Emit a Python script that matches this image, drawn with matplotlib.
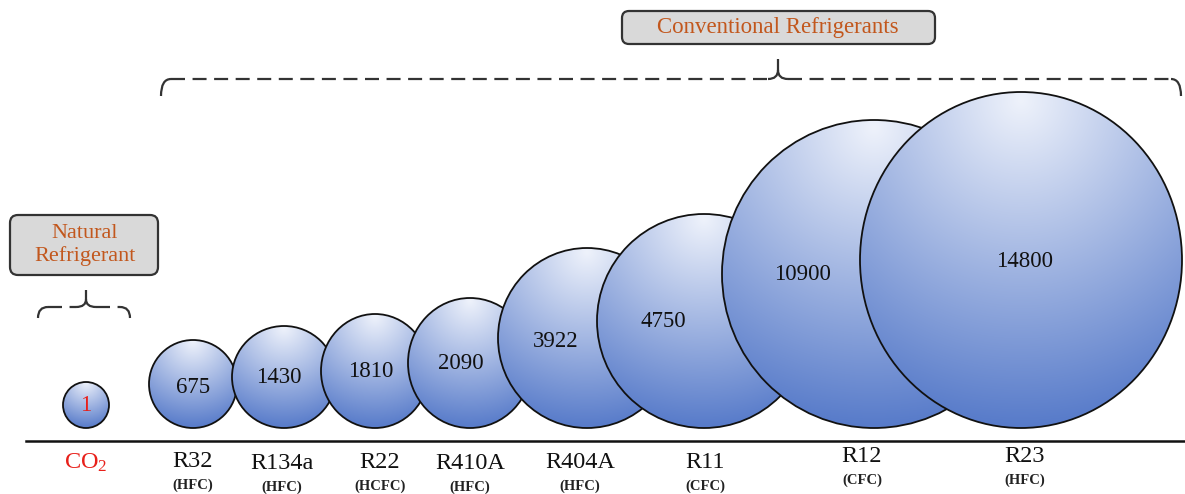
import numpy as np
import matplotlib
matplotlib.use("Agg")
import matplotlib.pyplot as plt
from matplotlib.patches import Ellipse, FancyBboxPatch
from matplotlib.path import Path
from matplotlib.patches import PathPatch

plt.rcParams["font.family"] = ["Liberation Serif", "DejaVu Serif"]
plt.rcParams["mathtext.fontset"] = "custom"
plt.rcParams["mathtext.rm"] = "Liberation Serif"
plt.rcParams["mathtext.it"] = "Liberation Serif:italic"

# data
names = ["CO$_2$", "R32", "R134a", "R22", "R410A", "R404A", "R11", "R12", "R23"]
classes = ["", "(HFC)", "(HFC)", "(HCFC)", "(HFC)", "(HFC)", "(CFC)", "(CFC)", "(HFC)"]
gwp = [1, 675, 1430, 1810, 2090, 3922, 4750, 10900, 14800]

# layout (pixel space)
bub_x = [86, 193, 284, 375, 470, 587, 704, 874, 1021]
bub_rx = [23, 44, 52, 54, 62, 89, 107, 152, 161]
bub_ry = [23, 44, 51, 57, 65, 90, 107, 154, 168]
val_x = [86, 193, 279, 371, 461, 556, 663, 802, 1025]
val_dy = [0, 3, 0, 0, 0, 3, 0, 0, 1]
name_x = [86, 193, 282, 380, 470, 580, 705, 862, 1025]
name_y = [463, 461, 463, 462, 463, 462, 462, 456, 456]
BASE = 428

W, H = 1185, 494
fig = plt.figure(figsize=(W / 100, H / 100), dpi=100)
ax = fig.add_axes([0, 0, 1, 1])

top_c = np.array([0.935, 0.95, 0.985])
bot_c = np.array([0.34, 0.48, 0.79])

for i, v in enumerate(gwp):
    cx, rx, ry = bub_x[i], bub_rx[i], bub_ry[i]
    cy = BASE - ry
    xs = np.linspace(cx - rx, cx + rx, 200)
    ys = np.linspace(cy - ry, cy + ry, 200)
    gx, gy = np.meshgrid(xs, ys)
    fx, fy = cx, cy - 0.95 * ry
    d = np.sqrt(((gx - fx) / rx) ** 2 + ((gy - fy) / ry) ** 2)
    t = np.clip(d / 1.95, 0, 1)[..., None]
    img = top_c * (1 - t) + bot_c * t
    ell = Ellipse((cx, cy), 2 * rx, 2 * ry, facecolor="none", edgecolor="#111111",
                  lw=1.3, zorder=3 + i * 2 + 1)
    im = ax.imshow(img, extent=(cx - rx, cx + rx, cy + ry, cy - ry), origin="upper",
                   aspect="auto", zorder=3 + i * 2, interpolation="bilinear")
    ax.add_patch(ell)
    im.set_clip_path(ell)
    color = "#e8201a" if i == 0 else "#111111"
    ax.text(val_x[i], cy + val_dy[i], str(v), ha="center", va="center",
            fontsize=16.5, color=color, zorder=40)
    ax.text(name_x[i], name_y[i], names[i], ha="center", va="center", fontsize=17.5,
            color="#e8201a" if i == 0 else "#111111")
    if classes[i]:
        ax.text(name_x[i], name_y[i] + 24, classes[i], ha="center", va="center",
                fontsize=10.5, fontweight="bold", color="#222222")

# baseline
ax.plot([26, 1185], [441, 441], color="#111111", lw=1.8, zorder=2)

# boxes
orange = "#c2571d"
box1 = FancyBboxPatch((622, 11), 313, 33, boxstyle="round,pad=0,rounding_size=7",
                      facecolor="#d9d9d9", edgecolor="#333333", lw=1.6, zorder=5)
ax.add_patch(box1)
ax.text(778, 28, "Conventional Refrigerants", ha="center", va="center",
        fontsize=16.5, color=orange, zorder=6)
box2 = FancyBboxPatch((10, 215), 148, 60, boxstyle="round,pad=0,rounding_size=8",
                      facecolor="#d9d9d9", edgecolor="#333333", lw=1.6, zorder=5)
ax.add_patch(box2)
ax.text(85, 245, "Natural\nRefrigerant", ha="center", va="center", linespacing=1.22,
        fontsize=16, color=orange, zorder=6)


def brace(x0, x1, y, xm, ypeak, drop, lw=1.6):
    dash = dict(color="#333333", lw=lw, ls=(0, (6.3, 3.4)), zorder=4)
    p = Path([(x0, y + drop), (x0, y), (x0 + 10, y)], [Path.MOVETO, Path.CURVE3, Path.CURVE3])
    ax.add_patch(PathPatch(p, fill=False, edgecolor="#333333", lw=lw, zorder=4))
    p = Path([(x1, y + drop), (x1, y), (x1 - 10, y)], [Path.MOVETO, Path.CURVE3, Path.CURVE3])
    ax.add_patch(PathPatch(p, fill=False, edgecolor="#333333", lw=lw, zorder=4))
    ax.plot([x0 + 10, xm - 10], [y, y], **dash)
    ax.plot([xm + 10, x1 - 10], [y, y], **dash)
    mid = y - (y - ypeak) * 0.45
    p = Path([(xm - 10, y), (xm, y), (xm, mid), (xm, ypeak)],
             [Path.MOVETO, Path.CURVE3, Path.CURVE3, Path.LINETO])
    ax.add_patch(PathPatch(p, fill=False, edgecolor="#333333", lw=lw, zorder=4))
    p = Path([(xm + 10, y), (xm, y), (xm, mid)], [Path.MOVETO, Path.CURVE3, Path.CURVE3])
    ax.add_patch(PathPatch(p, fill=False, edgecolor="#333333", lw=lw, zorder=4))


brace(161, 1181, 79, 778, 59, 17)
brace(38, 130, 307, 86, 290, 11)

ax.set_xlim(0, W)
ax.set_ylim(H, 0)
ax.axis("off")
fig.savefig("out.png", dpi=100, facecolor="white")
